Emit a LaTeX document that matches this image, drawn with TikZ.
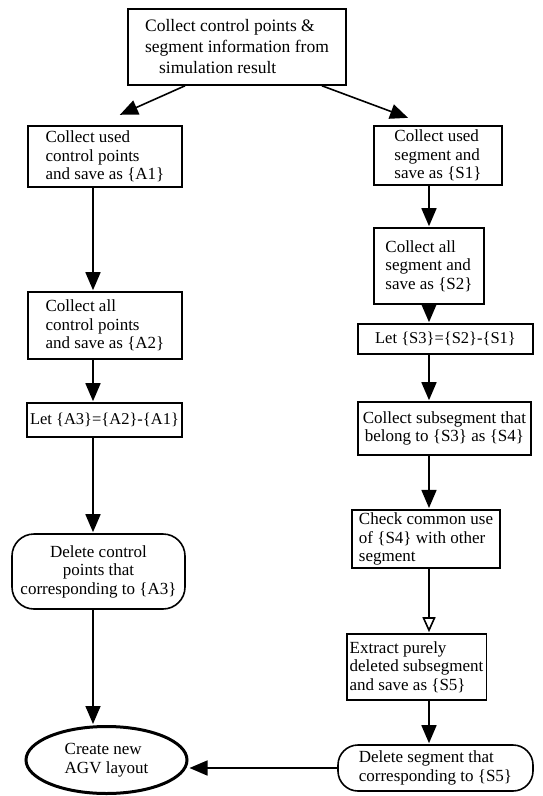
\documentclass[tikz,border=0pt]{standalone}
\usepackage{fontspec}
\setmainfont{Liberation Serif}
\usetikzlibrary{arrows.meta,shapes.geometric}
\newcommand{\fcfont}{\fontsize{17}{18.5}\selectfont}
\newcommand{\letfont}{\fontsize{16.5}{18}\selectfont}
\tikzset{
  >={Triangle[length=18pt,width=15pt]},
  stepbox/.style={draw,line width=1.6pt,inner sep=3pt,align=left,font=\fcfont},
  delbox/.style={stepbox,rounded corners=22pt,align=center},
  endnode/.style={ellipse,draw,line width=3pt,inner sep=0pt,align=left,
    font=\fcfont},
  flow/.style={->,line width=1.6pt,shorten >=1pt},
  flowopen/.style={-{Triangle[open,length=15pt,width=13pt]},line width=1.6pt,
    shorten >=1pt},
}

\begin{document}
\begin{tikzpicture}[x=1pt,y=-1pt]
  \useasboundingbox (0,0) rectangle (543,796);
  \coordinate (colA) at (93,0);
  \coordinate (colS) at (429,0);
  \node[stepbox,font=\fontsize{17.5}{21}\selectfont,minimum width=218pt,
    minimum height=76pt] (top) at (237,47)
    {Collect control points \&\\segment information from\\\hspace*{0.8em}simulation result};
  \node[stepbox,minimum width=154pt,minimum height=61pt] (A1) at (105,156.5)
    {Collect used\\control points\\and save as \{A1\}};
  \node[stepbox,minimum width=128pt,minimum height=59pt] (S1) at (438,155.5)
    {Collect used\\segment and\\save as \{S1\}};
  \node[stepbox,minimum width=154pt,minimum height=67pt] (A2) at (105,325.5)
    {Collect all\\control points\\and save as \{A2\}};
  \node[stepbox,minimum width=110pt,minimum height=76pt] (S2) at (429,266)
    {Collect all\\segment and\\save as \{S2\}};
  \node[stepbox,font=\letfont,minimum width=175pt,minimum height=30pt] (S3)
    at (445.5,339) {Let \{S3\}=\{S2\}-\{S1\}};
  \node[stepbox,font=\letfont,minimum width=153pt,minimum height=34pt] (A3)
    at (104.5,420) {Let \{A3\}=\{A2\}-\{A1\}};
  \node[stepbox,align=center,minimum width=173pt,minimum height=53pt] (S4)
    at (444.5,428.5) {Collect subsegment that\\belong to \{S3\} as \{S4\}};
  \node[stepbox,minimum width=148pt,minimum height=58pt] (S4chk) at (426,539)
    {Check common use\\of \{S4\} with other\\segment};
  \node[delbox,minimum width=173pt,minimum height=75pt] (delA) at (98.5,571.5)
    {Delete control\\points that\\corresponding to \{A3\}};
  \node[stepbox,minimum width=137pt,minimum height=66pt] (S5) at (416.5,667)
    {Extract purely\\deleted subsegment\\and save as \{S5\}};
  \node[delbox,align=left,rounded corners=20pt,minimum width=195pt,
    minimum height=46pt] (delS) at (435.5,768)
    {Delete segment that\\corresponding to \{S5\}};
  \node[endnode,minimum width=161pt,minimum height=67pt] (agv) at (106.5,760)
    {Create new\\AGV layout};

  \draw[flow] ([xshift=-52pt]top.south) -- ([xshift=14pt,yshift=10pt]A1.north);
  \draw[flow] ([xshift=85pt]top.south) -- ([xshift=-29pt,yshift=7pt]S1.north);
  \draw[flow] (A1.south -| colA) -- (A2.north -| colA);
  \draw[flow] (A2.south -| colA) -- (A3.north -| colA);
  \draw[flow] (A3.south -| colA) -- (delA.north -| colA);
  \draw[flow] (delA.south -| colA) -- (agv.north -| colA);
  \draw[flow] (S1.south -| colS) -- (S2.north -| colS);
  \draw[flow] (S2.south -| colS) -- (S3.north -| colS);
  \draw[flow] (S3.south -| colS) -- (S4.north -| colS);
  \draw[flow] (S4.south -| colS) -- (S4chk.north -| colS);
  \draw[flowopen] (S4chk.south -| colS) -- (S5.north -| colS);
  \draw[flow] (S5.south -| colS) -- (delS.north -| colS);
  \draw[flow] (delS.west) -- (delS.west -| agv.east);
\end{tikzpicture}
\end{document}
